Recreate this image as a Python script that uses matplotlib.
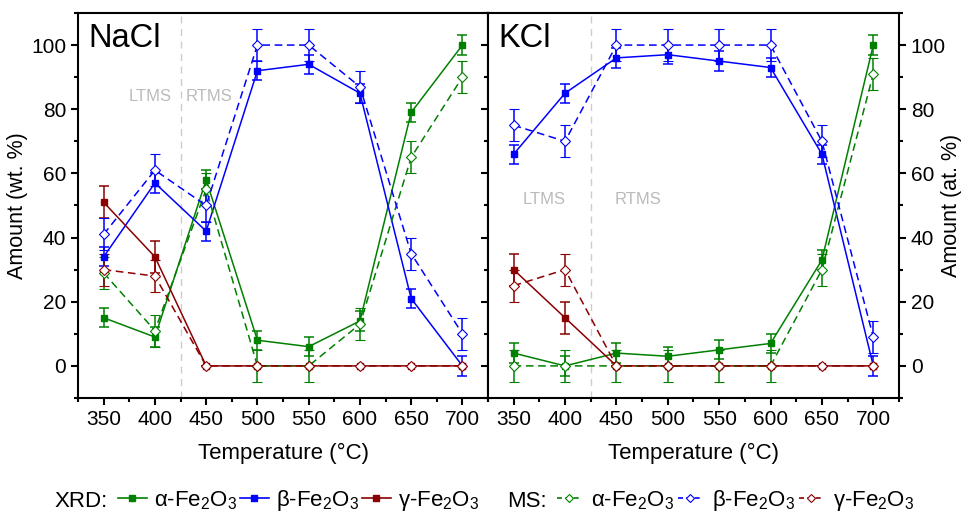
import matplotlib
matplotlib.use("Agg")
import matplotlib.pyplot as plt
from matplotlib.lines import Line2D
from matplotlib.ticker import MultipleLocator

plt.rcParams['font.family'] = ['Liberation Sans', 'DejaVu Sans']
plt.rcParams['mathtext.fontset'] = 'custom'
plt.rcParams['mathtext.rm'] = 'Liberation Sans'
plt.rcParams['mathtext.it'] = 'Liberation Sans'

# data
temps = [350, 400, 450, 500, 550, 600, 650, 700]

nacl_xrd_a = [15, 9, 58, 8, 6, 14, 79, 100]
nacl_xrd_b = [34, 57, 42, 92, 94, 85, 21, 0]
nacl_xrd_g = [51, 34, 0, 0, 0, 0, 0, 0]
nacl_ms_a = [29, 11, 55, 0, 0, 13, 65, 90]
nacl_ms_b = [41, 61, 50, 100, 100, 87, 35, 10]
nacl_ms_g = [30, 28, 0, 0, 0, 0, 0, 0]

kcl_xrd_a = [4, 0, 4, 3, 5, 7, 33, 100]
kcl_xrd_b = [66, 85, 96, 97, 95, 93, 66, 0]
kcl_xrd_g = [30, 15, 0, 0, 0, 0, 0, 0]
kcl_ms_a = [0, 0, 0, 0, 0, 0, 30, 91]
kcl_ms_b = [75, 70, 100, 100, 100, 100, 70, 9]
kcl_ms_g = [25, 30, 0, 0, 0, 0, 0, 0]

xrd_err = [3, 3, 3, 3, 3, 3, 3, 3]
xrd_g_err = [5, 5, 0, 0, 0, 0, 0, 0]
ms_err = [5, 5, 5, 5, 5, 5, 5, 5]
ms_g_err = [5, 5, 0, 0, 0, 0, 0, 0]

phase_labels = [r'α-Fe$_2$O$_3$', r'β-Fe$_2$O$_3$', r'γ-Fe$_2$O$_3$']
colors = ['#008000', '#0000ff', '#8b0000']


def panel(ax, xrd, ms, name, ltms_pos, rtms_pos):
    xrd_errs = [xrd_err, xrd_err, xrd_g_err]
    ms_errs = [ms_err, ms_err, ms_g_err]
    for vals, err, c in zip(xrd, xrd_errs, colors):
        ax.errorbar(temps, vals, yerr=err, color=c, lw=1.1, marker='s', ms=5,
                    capsize=3.5, elinewidth=1.1, capthick=1.1)
    for vals, err, c in zip(ms, ms_errs, colors):
        ax.errorbar(temps, vals, yerr=err, color=c, lw=1.1, ls=(0, (5, 3)),
                    marker='D', ms=5, mfc='white', mec=c, mew=0.8,
                    capsize=3.5, elinewidth=1.1, capthick=1.1)
    ax.axvline(425, color='#cccccc', lw=1.0, ls=(0, (5, 4)), zorder=0)
    ax.text(ltms_pos[0], ltms_pos[1], 'LTMS', color='#bbbbbb', fontsize=12,
            ha='center', va='center')
    ax.text(rtms_pos[0], rtms_pos[1], 'RTMS', color='#bbbbbb', fontsize=12,
            ha='center', va='center')
    ax.text(0.025, 0.975, name, transform=ax.transAxes, fontsize=23.5,
            va='top', ha='left')
    ax.set_xlim(325, 725)
    ax.set_ylim(-10, 110)
    ax.xaxis.set_major_locator(MultipleLocator(50))
    ax.xaxis.set_minor_locator(MultipleLocator(25))
    ax.yaxis.set_major_locator(MultipleLocator(20))
    ax.yaxis.set_minor_locator(MultipleLocator(10))
    ax.set_xticks(temps)
    for s in ax.spines.values():
        s.set_linewidth(1.5)
    ax.tick_params(axis='both', which='major', direction='out', length=5,
                   width=1.5, labelsize=15)
    ax.tick_params(axis='both', which='minor', direction='out', length=3,
                   width=1.5)
    ax.tick_params(axis='y', which='both', left=True, right=True)
    ax.set_xlabel('Temperature (°C)', fontsize=16, labelpad=10)


fig = plt.figure(figsize=(9.68, 5.13), dpi=100)
ax1 = fig.add_axes([0.0806, 0.2242, 0.4236, 0.7505])
ax2 = fig.add_axes([0.5041, 0.2242, 0.4246, 0.7505])

panel(ax1, [nacl_xrd_a, nacl_xrd_b, nacl_xrd_g], [nacl_ms_a, nacl_ms_b, nacl_ms_g],
      'NaCl', (395, 84), (453, 84))
panel(ax2, [kcl_xrd_a, kcl_xrd_b, kcl_xrd_g], [kcl_ms_a, kcl_ms_b, kcl_ms_g],
      'KCl', (380, 52), (471, 52))

ax1.set_ylabel('Amount (wt. %)', fontsize=15.5, labelpad=2)
ax2.tick_params(axis='y', labelleft=False, labelright=True)
ax2.yaxis.set_label_position('right')
ax2.set_ylabel('Amount (at. %)', fontsize=15.5)
ax2.yaxis.set_label_coords(1.103, 0.5)

# bottom legends
xrd_handles = [Line2D([], [], color=c, marker='s', ms=4, lw=1.2) for c in colors]
ms_handles = [Line2D([], [], color=c, marker='D', ms=4, lw=1.2, ls=(0, (3, 2)),
                     mfc='white', mec=c, mew=0.8) for c in colors]
fig.text(0.0558, 0.0117, 'XRD:', fontsize=16, va='baseline')
fig.text(0.5238, 0.0117, 'MS:', fontsize=16, va='baseline')
fig.legend(xrd_handles, phase_labels, loc='center left', bbox_to_anchor=(0.1219, 0.024),
           ncol=3, frameon=False, fontsize=16, handlelength=1.3, handletextpad=0.3,
           columnspacing=0.15, borderpad=0, borderaxespad=0)
fig.legend(ms_handles, phase_labels, loc='center left', bbox_to_anchor=(0.5754, 0.024),
           ncol=3, frameon=False, fontsize=16, handlelength=1.1, handletextpad=0.45,
           columnspacing=0.15, borderpad=0, borderaxespad=0)

fig.savefig('out.png', dpi=100)
